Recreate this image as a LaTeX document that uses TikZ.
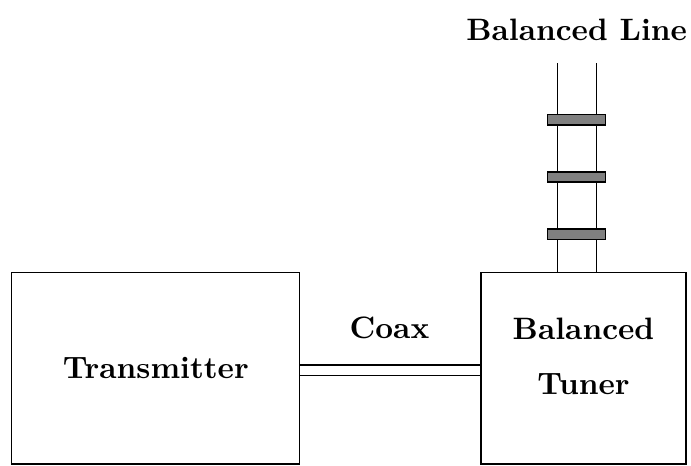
\documentclass[tikz,border=0pt]{standalone}
\usepackage{tikz}

\begin{document}
\begin{tikzpicture}[font=\bfseries\fontsize{10.4}{12.5}\selectfont,
    box/.style={draw, minimum width=3.4cm, minimum height=2.26cm},
    insulator/.style={draw, fill=gray, minimum width=0.68cm, minimum height=0.12cm, inner sep=0pt}
    ]
    \useasboundingbox (0,0) rectangle (8.16,5.50);
    \node[box] (tx) at (1.84,1.15) {Transmitter};
    \node[box, minimum width=2.42cm] (tuner) at (6.89,1.15) {};
    \node[align=center] (tunertext) at ([yshift=0.14cm]tuner.center) {Balanced\\[6pt]Tuner};
    % coax between the boxes
    \draw ([yshift=0.04cm]tx.east) -- ([yshift=0.04cm]tx.east -| tuner.west);
    \draw ([yshift=-0.08cm]tx.east) -- ([yshift=-0.08cm]tx.east -| tuner.west);
    \node (coax) at (4.60,1.63) {Coax};
    % ladder line
    \coordinate (la) at (6.58,4.76);
    \coordinate (lb) at (7.04,4.76);
    \draw (la |- tuner.north) -- (la);
    \draw (lb |- tuner.north) -- (lb);
    \foreach \y/\n in {4.085/1, 3.41/2, 2.735/3}
      \node[insulator] (ins\n) at (6.81,\y) {};
    \node (ladder) at (6.81,5.15) {Balanced Line};
  \end{tikzpicture}
\end{document}
